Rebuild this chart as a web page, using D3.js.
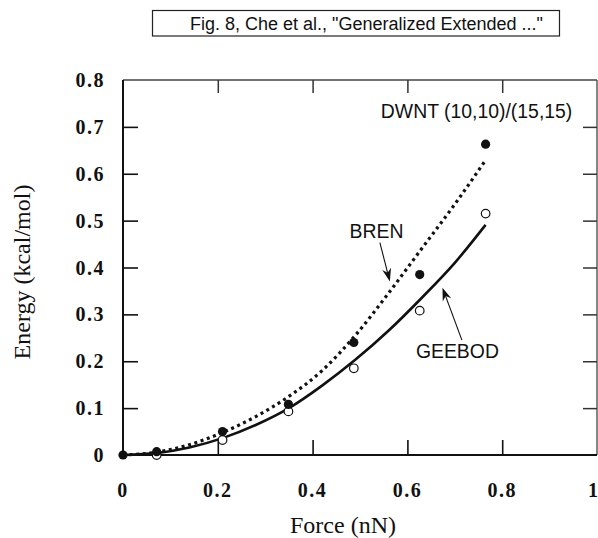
<!DOCTYPE html>
<html><head><meta charset="utf-8">
<script src="https://cdn.jsdelivr.net/npm/d3@7"></script>
<style>html,body{margin:0;padding:0;background:#fff;}svg{display:block;}</style>
</head><body>
<svg id="chart" width="598" height="538"></svg>
<script>
// ---- data ----
const titleText = 'Fig. 8, Che et al., "Generalized Extended ..."';
const xLabel = "Force (nN)";
const yLabel = "Energy (kcal/mol)";
const xTicks = [0, 0.2, 0.4, 0.6, 0.8, 1];
const xTickLabels = ["0", "0.2", "0.4", "0.6", "0.8", "1"];
const yTicks = [0, 0.1, 0.2, 0.3, 0.4, 0.5, 0.6, 0.7, 0.8];
const yTickLabels = ["0", "0.1", "0.2", "0.3", "0.4", "0.5", "0.6", "0.7", "0.8"];

// BREN (filled circles)
const brenForce = [0, 0.071, 0.21, 0.349, 0.487, 0.626, 0.765];
const brenEnergy = [0, 0.007, 0.05, 0.108, 0.24, 0.385, 0.663];
// GEEBOD (open circles)
const geebodForce = [0.071, 0.21, 0.349, 0.487, 0.626, 0.765];
const geebodEnergy = [0.0, 0.032, 0.093, 0.185, 0.308, 0.515];

// fitted curves
const curveForce = [0, 0.07, 0.14, 0.21, 0.28, 0.35, 0.42, 0.49, 0.56, 0.63, 0.70, 0.765];
const brenCurveEnergy = [0, 0.006, 0.022, 0.048, 0.082, 0.125, 0.18, 0.255, 0.345, 0.44, 0.535, 0.629];
const geebodCurveEnergy = [0, 0.004, 0.016, 0.036, 0.064, 0.10, 0.148, 0.203, 0.265, 0.335, 0.41, 0.491];

// annotations
const annotLabels = ["DWNT (10,10)/(15,15)", "BREN", "GEEBOD"];
const annotForce = [0.544, 0.478, 0.618];
const annotEnergy = [0.72, 0.463, 0.206];
const arrowFrom = [[0.542, 0.453], [0.715, 0.245]];
const arrowTo = [[0.563, 0.370], [0.674, 0.357]];

// ---- drawing ----
const svg = d3.select("#chart");
const x = d3.scaleLinear().domain([0, 1]).range([123, 597]);
const y = d3.scaleLinear().domain([0, 0.8]).range([455, 80]);
const serif = "'Liberation Serif','Times New Roman',serif";
const sans = "'Liberation Sans',Arial,Helvetica,sans-serif";

// title box
const tg = svg.append("g");
tg.append("rect").attr("x", 152.5).attr("y", 10.5).attr("width", 407).attr("height", 25.5)
  .attr("fill", "none").attr("stroke", "#222").attr("stroke-width", 1.2);
tg.append("text").attr("x", 190).attr("y", 29.5).attr("font-family", sans).attr("font-size", 18)
  .attr("fill", "#111").text(titleText);

// frame
const innerX = xTicks.filter(d => d > 0 && d < 1);
const innerY = yTicks.filter(d => d > 0 && d < 0.8);

const gTop = svg.append("g").attr("transform", `translate(0,${y(0.8)})`)
  .call(d3.axisBottom(x).tickValues(innerX).tickSize(13).tickFormat(""));
const gRight = svg.append("g").attr("transform", `translate(${x(1)},0)`)
  .call(d3.axisLeft(y).tickValues(innerY).tickSize(14).tickFormat(""));
const gBottom = svg.append("g").attr("transform", `translate(0,${y(0)})`)
  .call(d3.axisTop(x).tickValues(innerX).tickSize(15).tickFormat(""));
const gLeft = svg.append("g").attr("transform", `translate(${x(0)},0)`)
  .call(d3.axisRight(y).tickValues(innerY).tickSize(15).tickFormat(""));

[gTop, gRight].forEach(g => {
  g.selectAll("path").attr("stroke", "#444").attr("stroke-width", 1.3);
  g.selectAll("line").attr("stroke", "#333").attr("stroke-width", 1.5);
});
[gBottom, gLeft].forEach(g => {
  g.selectAll("path").attr("stroke", "#111").attr("stroke-width", 2);
  g.selectAll("line").attr("stroke", "#111").attr("stroke-width", 1.6);
});
gTop.select("path").attr("d", `M${x(0)},0H${x(1)}`);
gRight.select("path").attr("d", `M0,${y(0.8)}V${y(0)}`);
gBottom.select("path").attr("d", `M${x(0)},0H${x(1)}`);
gLeft.select("path").attr("d", `M0,${y(0.8)}V${y(0)}`);

// tick labels
svg.append("g").selectAll("text").data(xTicks).join("text")
  .attr("x", d => d === 1 ? 598 : x(d)).attr("y", 497)
  .attr("text-anchor", d => d === 1 ? "end" : "middle")
  .attr("font-family", serif).attr("font-weight", "bold").attr("font-size", 20)
  .attr("letter-spacing", d => d === 1 ? 0 : 1.5).attr("fill", "#111")
  .text((d, i) => xTickLabels[i]);
svg.append("g").selectAll("text").data(yTicks).join("text")
  .attr("x", 105).attr("y", d => y(d) + 7).attr("text-anchor", "end")
  .attr("font-family", serif).attr("font-weight", "bold").attr("font-size", 20)
  .attr("letter-spacing", 1.5).attr("fill", "#111")
  .text((d, i) => yTickLabels[i]);

// axis titles
svg.append("text").attr("x", 343).attr("y", 533).attr("text-anchor", "middle")
  .attr("font-family", serif).attr("font-size", 24).attr("fill", "#111").text(xLabel);
svg.append("text").attr("transform", "translate(29.5,272) rotate(-90)").attr("text-anchor", "middle")
  .attr("font-family", serif).attr("font-size", 24).attr("fill", "#111").text(yLabel);

// curves
const line = d3.line().x(d => x(d[0])).y(d => y(d[1])).curve(d3.curveMonotoneX);
svg.append("path").datum(curveForce.map((f, i) => [f, brenCurveEnergy[i]]))
  .attr("d", line).attr("fill", "none").attr("stroke", "#111")
  .attr("stroke-width", 3.2).attr("stroke-dasharray", "3,3.6");
svg.append("path").datum(curveForce.map((f, i) => [f, geebodCurveEnergy[i]]))
  .attr("d", line).attr("fill", "none").attr("stroke", "#111").attr("stroke-width", 2.6);

// points
svg.append("g").selectAll("circle").data(geebodForce.map((f, i) => [f, geebodEnergy[i]])).join("circle")
  .attr("cx", d => x(d[0])).attr("cy", d => y(d[1])).attr("r", 4.3)
  .attr("fill", "#fff").attr("stroke", "#111").attr("stroke-width", 1.2);
svg.append("g").selectAll("circle").data(brenForce.map((f, i) => [f, brenEnergy[i]])).join("circle")
  .attr("cx", d => x(d[0])).attr("cy", d => y(d[1])).attr("r", 4.6).attr("fill", "#111");

// annotation labels
svg.append("g").selectAll("text").data(annotLabels).join("text")
  .attr("x", (d, i) => x(annotForce[i])).attr("y", (d, i) => y(annotEnergy[i]))
  .attr("font-family", sans).attr("font-size", 19.4).attr("fill", "#111").text(d => d);

// arrows
arrowFrom.forEach((a, i) => {
  const x1 = x(a[0]), y1 = y(a[1]), x2 = x(arrowTo[i][0]), y2 = y(arrowTo[i][1]);
  const ang = Math.atan2(y2 - y1, x2 - x1);
  const L = 13, W = 4.5, N = 9;
  const bx = x2 - L * Math.cos(ang), by = y2 - L * Math.sin(ang);
  const nx = x2 - N * Math.cos(ang), ny = y2 - N * Math.sin(ang);
  const px = -Math.sin(ang), py = Math.cos(ang);
  svg.append("line").attr("x1", x1).attr("y1", y1).attr("x2", nx).attr("y2", ny)
    .attr("stroke", "#111").attr("stroke-width", 1.1);
  svg.append("path")
    .attr("d", `M${x2},${y2}L${bx + W * px},${by + W * py}L${nx},${ny}L${bx - W * px},${by - W * py}Z`)
    .attr("fill", "#111");
});
</script>
</body></html>
